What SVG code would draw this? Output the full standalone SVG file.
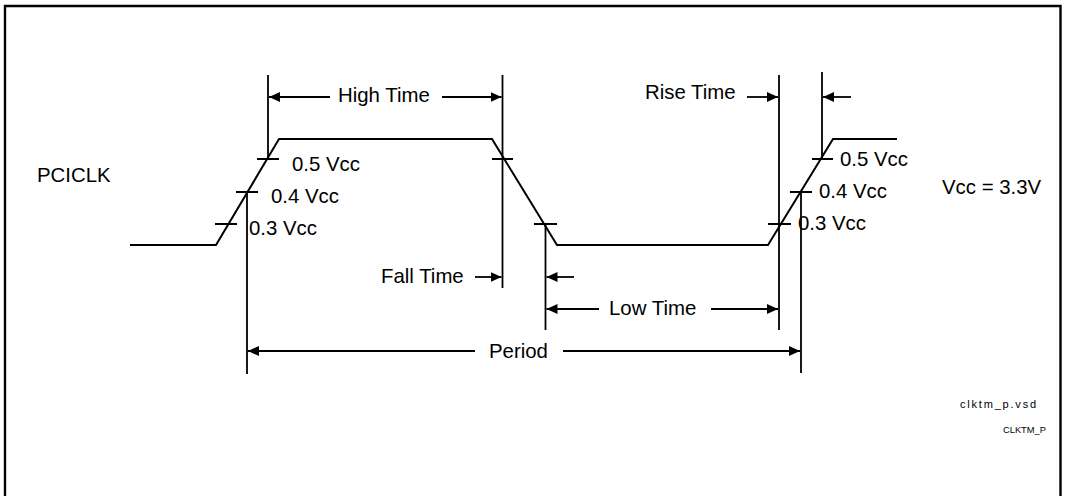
<svg xmlns="http://www.w3.org/2000/svg" width="1065" height="496" viewBox="0 0 1065 496">
<defs>
<marker id="ah" markerWidth="12" markerHeight="10" refX="11" refY="5" orient="auto" markerUnits="userSpaceOnUse">
<path d="M0,0 L11,5 L0,10 Z" fill="#000"/>
</marker>
<style>
.sig{fill:none;stroke:#000;stroke-width:2}
.ln{fill:none;stroke:#000;stroke-width:1.8}
.arr{fill:none;stroke:#000;stroke-width:1.8;marker-end:url(#ah)}
text{font-family:"Liberation Sans",Arial,sans-serif;fill:#000}
.t{font-size:20.4px}
</style>
</defs>
<rect x="0" y="0" width="1065" height="496" fill="#fff"/>
<path d="M5,510 V6 H1060.5 V510" fill="none" stroke="#000" stroke-width="2.4"/>

<g id="signal">
<path class="sig" d="M130,245 H216 L279,139 H492 L557,245 H768 L833,139 H897"/>
</g>

<g id="ticks">
<path class="ln" d="M257,159 H279 M236,192 H258 M215,224 H237 M492,159 H513 M534,224 H557 M812,159 H833 M790,192 H812 M768,224 H791"/>
</g>

<g id="connectors">
<path class="ln" d="M268,75 V159 M247,192 V374 M502.5,75 V288 M545.5,224 V330 M779,75 V330 M822,72 V159 M801,193 V373"/>
<path class="arr" d="M330,97 H269"/>
<path class="arr" d="M442,97 H501.5"/>
<path class="arr" d="M747,97 H778"/>
<path class="arr" d="M851,97 H823"/>
<path class="arr" d="M475,277 H501.5"/>
<path class="arr" d="M574,277 H546.5"/>
<path class="arr" d="M599,309 H546.5"/>
<path class="arr" d="M711,309 H778"/>
<path class="arr" d="M475,351 H248"/>
<path class="arr" d="M563,351 H800"/>
</g>

<g id="labels">
<text class="t" x="37" y="182">PCICLK</text>
<text class="t" x="338" y="102">High Time</text>
<text class="t" x="645" y="99">Rise Time</text>
<text class="t" x="381" y="283">Fall Time</text>
<text class="t" x="609" y="315">Low Time</text>
<text class="t" x="489" y="358">Period</text>
<text class="t" x="292" y="171">0.5 Vcc</text>
<text class="t" x="271" y="203">0.4 Vcc</text>
<text class="t" x="249" y="235">0.3 Vcc</text>
<text class="t" x="840" y="166">0.5 Vcc</text>
<text class="t" x="819" y="198">0.4 Vcc</text>
<text class="t" x="798" y="230">0.3 Vcc</text>
<text class="t" x="942" y="194">Vcc = 3.3V</text>
<text x="960" y="408" font-size="11" letter-spacing="1.8">clktm_p.vsd</text>
<text x="1003" y="433" font-size="9.3">CLKTM_P</text>
</g>
</svg>
